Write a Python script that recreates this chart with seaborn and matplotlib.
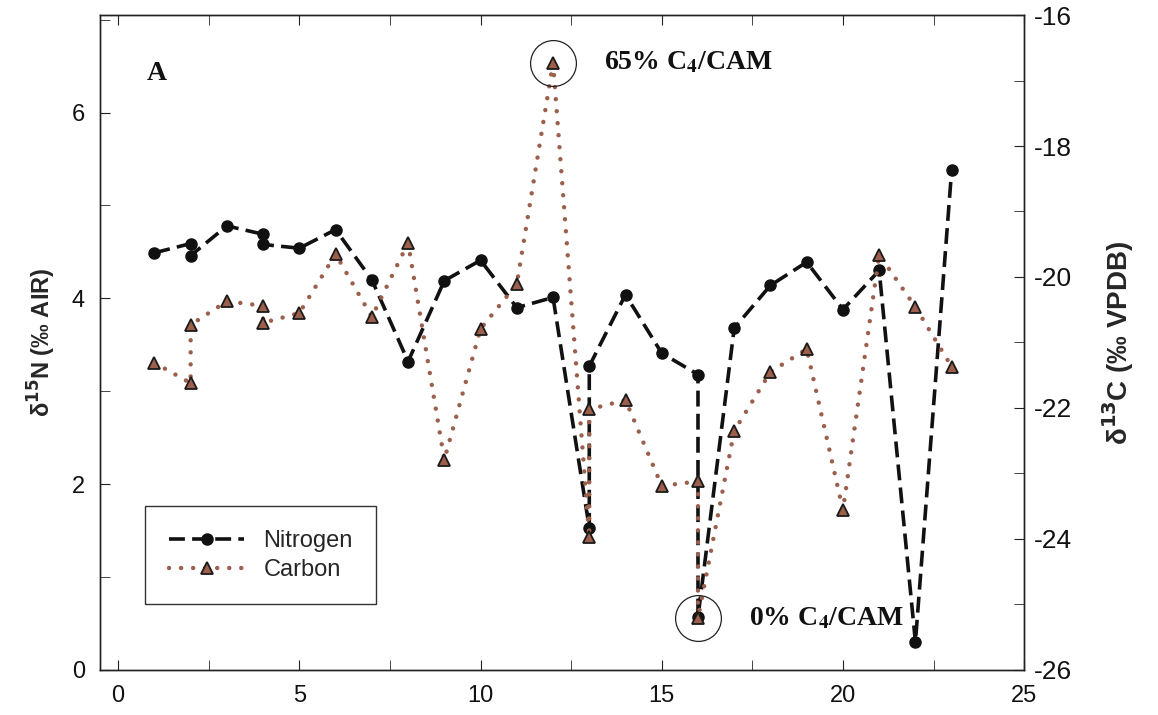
import numpy as np
import pandas as pd
import seaborn as sns
import matplotlib.pyplot as plt
from matplotlib.ticker import MultipleLocator

# sample number (some samples measured twice, kept in plotted order)
sample_n = [1, 2, 2, 3, 4, 4, 5, 6, 7, 8, 9, 10, 11, 12, 13, 13, 14, 15, 16, 16,
            17, 18, 19, 20, 21, 22, 23]
nitrogen = [4.49, 4.59, 4.46, 4.78, 4.69, 4.58, 4.54, 4.74, 4.20, 3.32, 4.19, 4.41,
            3.90, 4.01, 1.53, 3.27, 4.04, 3.41, 3.18, 0.57, 3.68, 4.14, 4.39, 3.88,
            4.30, 0.30, 5.38]

sample_c = [1, 2, 2, 3, 4, 4, 5, 6, 7, 8, 9, 10, 11, 12, 13, 13, 14, 15, 16, 16,
            17, 18, 19, 20, 21, 22, 23]
carbon = [-21.31, -21.62, -20.73, -20.37, -20.44, -20.70, -20.55, -19.65, -20.61,
          -19.48, -22.79, -20.79, -20.11, -16.73, -23.97, -22.02, -21.88, -23.19,
          -23.12, -25.21, -22.35, -21.45, -21.10, -23.56, -19.66, -20.46, -21.37]

sns.set_style('ticks')
plt.rcParams['font.family'] = ['Liberation Sans', 'DejaVu Sans']
plt.rcParams.update({
    'xtick.direction': 'in', 'ytick.direction': 'in',
    'xtick.top': True, 'axes.linewidth': 1.0,
    'xtick.major.size': 7, 'xtick.minor.size': 7,
    'ytick.major.size': 7, 'ytick.minor.size': 7,
    'axes.edgecolor': '#222222',
    'axes.unicode_minus': False,
})

df_n = pd.DataFrame({'Sample': sample_n, 'd15N': nitrogen})
df_c = pd.DataFrame({'Sample': sample_c, 'd13C': carbon})

brown = '#9c5f4c'

fig = plt.figure(figsize=(11.58, 7.15), dpi=100)
ax = fig.add_axes([0.0864, 0.063, 0.798, 0.916])
ax2 = ax.twinx()

sns.lineplot(data=df_n, x='Sample', y='d15N', sort=False, estimator=None, ax=ax,
             color='#111111', linewidth=2.6, linestyle=(0, (4.4, 2.0)),
             marker='o', markersize=8, markerfacecolor='#111111',
             markeredgecolor='#111111', markeredgewidth=1)
sns.lineplot(data=df_c, x='Sample', y='d13C', sort=False, estimator=None, ax=ax2,
             color=brown, linewidth=3.2, linestyle=(0, (0.01, 2.7)),
             dash_capstyle='round', marker='^', markersize=8,
             markerfacecolor=brown, markeredgecolor='#1a1a1a', markeredgewidth=1.3)

ax.set_xlim(-0.5, 25)
ax.set_ylim(0, 7.05)
ax2.set_ylim(-26, -16)
ax.xaxis.set_major_locator(MultipleLocator(5))
ax.xaxis.set_minor_locator(MultipleLocator(2.5))
ax.yaxis.set_major_locator(MultipleLocator(2))
ax.yaxis.set_minor_locator(MultipleLocator(1))
ax2.yaxis.set_major_locator(MultipleLocator(2))
ax2.yaxis.set_minor_locator(MultipleLocator(1))
ax.tick_params(labelsize=17, colors='#222222', labelcolor='#111111')
ax2.tick_params(labelsize=19, colors='#222222', labelcolor='#111111')
ax.tick_params(axis='x', which='both', top=True, pad=11)
ax.tick_params(axis='y', which='both', pad=11)
ax2.tick_params(axis='y', which='both', pad=7)

ax.set_xlabel('')
ax.set_ylabel('δ$^{\\mathbf{15}}$N (‰ AIR)', fontsize=17, fontweight='bold', labelpad=10)
ax2.set_ylabel('δ$^{\\mathbf{13}}$C (‰ VPDB)', fontsize=20, fontweight='bold', labelpad=20)

# highlight the carbon extremes
i_max = int(np.argmax(carbon))
i_min = int(np.argmin(carbon))
for i, txt in [(i_max, '65% C$_\\mathbf{4}$/CAM'), (i_min, '0% C$_\\mathbf{4}$/CAM')]:
    ax2.plot(sample_c[i], carbon[i], marker='o', markersize=33, markerfacecolor='none',
             markeredgecolor='#222222', markeredgewidth=0.9, linestyle='none')
    ax2.annotate(txt, xy=(sample_c[i], carbon[i]), xytext=(37, 0),
                 textcoords='offset points', ha='left', va='center',
                 fontfamily='Liberation Serif', fontweight='bold', fontsize=20,
                 math_fontfamily='stix', color='#111111')

ax.text(0.051, 0.911, 'A', transform=ax.transAxes, ha='left', va='center',
        fontfamily='Liberation Serif', fontweight='bold', fontsize=20, color='#111111')

handles = [ax.get_lines()[0], ax2.get_lines()[0]]
leg = ax2.legend(handles, ['Nitrogen', 'Carbon'], loc='lower left',
                 bbox_to_anchor=(0.049, 0.10), borderaxespad=0, fontsize=17,
                 handlelength=3.2, numpoints=1, fancybox=False, framealpha=1,
                 edgecolor='#333333', borderpad=1.0, labelspacing=0.3)
leg.get_frame().set_linewidth(1.0)

fig.savefig('out.png', dpi=100)
